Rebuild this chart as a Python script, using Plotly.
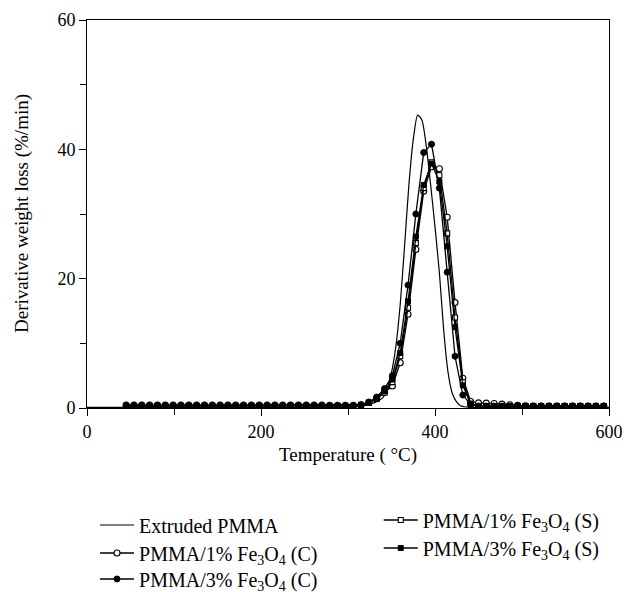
import plotly.graph_objects as go

# ---------------- data ----------------
temp_ext = [0, 45, 90, 135, 180, 225, 270, 300, 310, 320, 330, 340, 345, 350, 355, 360,
            365, 370, 375, 380, 385, 390, 395, 400, 405, 410, 415, 420, 425, 430, 440,
            460, 500, 550, 600]
ext_pmma = [0.1, 0.1, 0.1, 0.1, 0.1, 0.1, 0.1, 0.1, 0.2, 0.4, 0.8, 1.6, 3.0, 5.5, 9.5, 16.0,
            25.0, 34.5, 41.5, 45.3, 44.5, 40.5, 34.5, 28.0, 21.0, 12.0, 5.5, 2.2, 0.9, 0.3, 0.1,
            0.1, 0.1, 0.1, 0.1]

temp = [45, 54, 63, 72, 81, 90, 99, 108, 117, 126, 135, 144, 153, 162, 171, 180, 189, 198,
        207, 216, 225, 234, 243, 252, 261, 270, 279, 288, 297, 306, 315, 324, 333, 342, 351,
        360, 369, 378, 387, 396, 405, 414, 423, 432, 441, 450, 459, 468, 477, 486, 495, 504,
        513, 522, 531, 540, 549, 558, 567, 576, 585, 594]

pmma_1c = [0.45, 0.45, 0.45, 0.45, 0.45, 0.45, 0.45, 0.45, 0.45, 0.45, 0.45, 0.45, 0.45,
           0.45, 0.45, 0.45, 0.45, 0.45, 0.45, 0.45, 0.45, 0.45, 0.45, 0.45, 0.45, 0.45,
           0.4, 0.4, 0.4, 0.4, 0.5, 0.9, 1.5, 2.4, 3.4, 7.0, 14.5, 24.5, 33.5, 37.3, 37.0,
           29.5, 16.3, 4.6, 1.0, 0.8, 0.75, 0.7, 0.6, 0.5, 0.4, 0.35, 0.3, 0.3, 0.3, 0.3,
           0.3, 0.3, 0.3, 0.3, 0.3, 0.3]

pmma_3c = [0.35, 0.35, 0.35, 0.35, 0.35, 0.35, 0.35, 0.35, 0.35, 0.35, 0.35, 0.35, 0.35,
           0.35, 0.35, 0.35, 0.35, 0.35, 0.35, 0.35, 0.35, 0.35, 0.35, 0.35, 0.35, 0.35,
           0.3, 0.3, 0.3, 0.3, 0.5, 0.9, 1.7, 3.0, 5.0, 10.0, 19.0, 30.0, 39.5, 40.8, 34.0,
           21.0, 8.0, 2.0, 0.5, 0.3, 0.3, 0.3, 0.3, 0.3, 0.3, 0.3, 0.3, 0.3, 0.3, 0.3,
           0.3, 0.3, 0.3, 0.3, 0.3, 0.3]

pmma_1s = [0.3, 0.3, 0.3, 0.3, 0.3, 0.3, 0.3, 0.3, 0.3, 0.3, 0.3, 0.3, 0.3,
           0.3, 0.3, 0.3, 0.3, 0.3, 0.3, 0.3, 0.3, 0.3, 0.3, 0.3, 0.3, 0.3,
           0.3, 0.3, 0.3, 0.3, 0.4, 0.8, 1.4, 2.4, 4.0, 8.0, 15.5, 25.5, 34.0, 38.0, 36.0,
           27.0, 14.0, 4.0, 0.7, 0.3, 0.3, 0.3, 0.3, 0.3, 0.3, 0.3, 0.3, 0.3, 0.3, 0.3,
           0.3, 0.3, 0.3, 0.3, 0.3, 0.3]

pmma_3s = [0.3, 0.3, 0.3, 0.3, 0.3, 0.3, 0.3, 0.3, 0.3, 0.3, 0.3, 0.3, 0.3,
           0.3, 0.3, 0.3, 0.3, 0.3, 0.3, 0.3, 0.3, 0.3, 0.3, 0.3, 0.3, 0.3,
           0.3, 0.3, 0.3, 0.3, 0.4, 0.8, 1.5, 2.6, 4.4, 8.5, 16.5, 26.5, 34.5, 37.8, 35.0,
           25.0, 12.5, 3.5, 0.6, 0.3, 0.3, 0.3, 0.3, 0.3, 0.3, 0.3, 0.3, 0.3, 0.3, 0.3,
           0.3, 0.3, 0.3, 0.3, 0.3, 0.3]

x_ticks = [0, 200, 400, 600]
y_ticks = [0, 20, 40, 60]

FONT = "Liberation Serif"
FE = "Fe<sub>3</sub>O<sub>4</sub>"

fig = go.Figure()

fig.add_trace(go.Scatter(
    x=temp_ext, y=ext_pmma, mode="lines", name="Extruded PMMA",
    line=dict(color="black", width=1.2, shape="spline", smoothing=0.6),
    legend="legend"))

fig.add_trace(go.Scatter(
    x=temp, y=pmma_1c, mode="lines+markers", name=f"PMMA/1% {FE} (C)",
    line=dict(color="black", width=1.3),
    marker=dict(symbol="circle", size=6, color="white", line=dict(color="black", width=1.1)),
    legend="legend2"))

fig.add_trace(go.Scatter(
    x=temp, y=pmma_3c, mode="lines+markers", name=f"PMMA/3% {FE} (C)",
    line=dict(color="black", width=1.3),
    marker=dict(symbol="circle", size=6, color="black", line=dict(color="black", width=1)),
    legend="legend3"))

fig.add_trace(go.Scatter(
    x=temp, y=pmma_1s, mode="lines+markers", name=f"PMMA/1% {FE} (S)",
    line=dict(color="black", width=1.3),
    marker=dict(symbol="square", size=5, color="white", line=dict(color="black", width=1.1)),
    legend="legend4"))

fig.add_trace(go.Scatter(
    x=temp, y=pmma_3s, mode="lines+markers", name=f"PMMA/3% {FE} (S)",
    line=dict(color="black", width=1.3),
    marker=dict(symbol="square", size=5, color="black", line=dict(color="black", width=1)),
    legend="legend5"))

axis_common = dict(
    showgrid=False, zeroline=False, showline=True, linecolor="black", linewidth=1,
    mirror=True, ticks="outside", ticklen=7, tickwidth=1, tickcolor="black",
    tickfont=dict(family=FONT, size=18, color="black"),
)

fig.update_xaxes(
    range=[0, 600], tickvals=x_ticks, ticktext=[str(v) for v in x_ticks],
    minor=dict(tickvals=[100, 300, 500], ticks="outside", ticklen=6, tickcolor="black"),
    title=dict(text="Temperature ( °C)", font=dict(family=FONT, size=19, color="black"), standoff=7),
    **axis_common)

fig.update_yaxes(
    range=[0, 60], tickvals=y_ticks, ticktext=[str(v) for v in y_ticks],
    minor=dict(tickvals=[10, 30, 50], ticks="outside", ticklen=6, tickcolor="black"),
    **axis_common)

# y-axis title as rotated text to the left of the tick labels
fig.add_annotation(
    text="Derivative weight loss (%/min)", textangle=-90,
    xref="paper", yref="paper", x=0, y=0.5, xshift=-65,
    xanchor="center", yanchor="middle", showarrow=False,
    font=dict(family=FONT, size=19, color="black"))

legend_common = dict(
    orientation="v", bgcolor="rgba(0,0,0,0)", borderwidth=0,
    font=dict(family=FONT, size=20, color="black"),
    itemwidth=34, xanchor="left", yanchor="middle",
    xref="container", yref="container",
)

fig.update_layout(
    width=637, height=592,
    margin=dict(l=79, r=36, t=12, b=192, autoexpand=False),
    paper_bgcolor="white", plot_bgcolor="white",
    font=dict(family=FONT, size=18, color="black"),
    showlegend=True,
    legend=dict(x=0.1366, y=0.1267, **legend_common),
    legend2=dict(x=0.1366, y=0.0794, **legend_common),
    legend3=dict(x=0.1366, y=0.0355, **legend_common),
    legend4=dict(x=0.582, y=0.1351, **legend_common),
    legend5=dict(x=0.582, y=0.0878, **legend_common),
)

fig.write_html("out.html")
